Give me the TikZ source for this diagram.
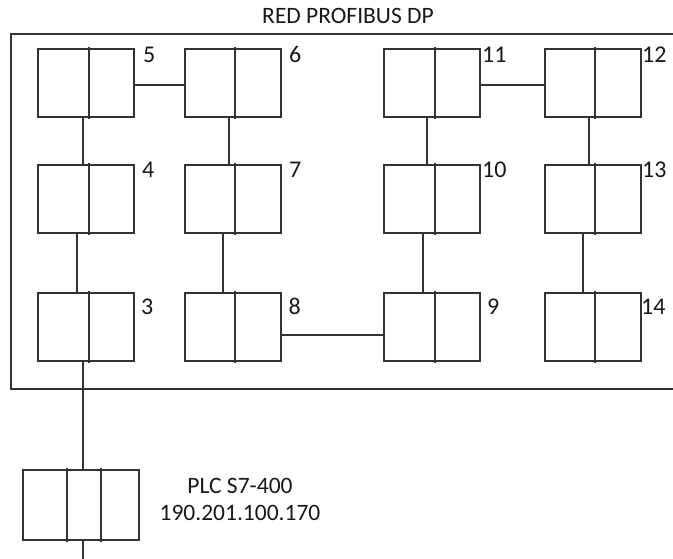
\documentclass[tikz,border=0pt]{standalone}
\usepackage{fontspec}
\setmainfont{Carlito}
\begin{document}
\begin{tikzpicture}[x=1pt,y=-1pt,
  wire/.style={draw=black!80, line width=2pt, line cap=rect},
  slave/.style={wire, rectangle, minimum width=96pt, minimum height=68pt, inner sep=0pt},
  master/.style={wire, rectangle, minimum width=116pt, minimum height=70pt, inner sep=0pt},
  addr/.style={anchor=west, inner sep=0pt, text=black!90, font=\fontsize{24}{28}\selectfont},
  caption/.style={inner sep=0pt, text=black!90, font=\fontsize{23.5}{27.5}\selectfont, align=center}]
\useasboundingbox (0,0) rectangle (673,559);
\clip (0,0) rectangle (673,559);

% network frame with its title
\node[wire, rectangle, minimum width=674pt, minimum height=355pt, inner sep=0pt] (net) at (348,211.5) {};
\node[caption] (title) at (348,15.8) {RED PROFIBUS DP};

% slave stations, columns x = 86, 233, 432, 593 ; rows y = 83, 199, 327
\node[slave] (m5)  at (86,83)   {};
\node[slave] (m6)  at (233,83)  {};
\node[slave] (m11) at (432,83)  {};
\node[slave] (m12) at (593,83)  {};
\node[slave] (m4)  at (86,199)  {};
\node[slave] (m7)  at (233,199) {};
\node[slave] (m10) at (432,199) {};
\node[slave] (m13) at (593,199) {};
\node[slave] (m3)  at (86,327)  {};
\node[slave] (m8)  at (233,327) {};
\node[slave] (m9)  at (432,327) {};
\node[slave] (m14) at (593,327) {};

% split line inside each slave
\foreach \m/\d in {m5/3,m4/3,m3/3,m6/2,m7/2,m8/2,m11/3,m10/3,m9/3,m12/2,m13/2,m14/2}
  \draw[wire] ([xshift=\d pt]\m.north) -- ([xshift=\d pt]\m.south);

% station addresses
\node[addr] (l5)  at (143,54.5)   {5};
\node[addr] (l6)  at (289,54.5)   {6};
\node[addr] (l11) at (482,54.5)   {11};
\node[addr] (l12) at (642,54.5)   {12};
\node[addr] (l4)  at (142,170)    {4};
\node[addr] (l7)  at (289,170)    {7};
\node[addr] (l10) at (482,170)    {10};
\node[addr] (l13) at (642,170)    {13};
\node[addr] (l3)  at (141,306.8)  {3};
\node[addr] (l8)  at (288.5,306.8){8};
\node[addr] (l9)  at (487,306.8)  {9};
\node[addr] (l14) at (641,306.8)  {14};

% bus segments
\draw[wire] ([yshift=-2pt]m5.east) -- ([yshift=-2pt]m6.west);
\draw[wire] ([yshift=-2pt]m11.east) -- ([yshift=-2pt]m12.west);
\draw[wire] ([yshift=-8pt]m8.east) -- ([yshift=-8pt]m9.west);
\draw[wire] ([xshift=-3pt]m5.south) -- ([xshift=-3pt]m4.north);
\draw[wire] ([xshift=-9pt]m4.south) -- ([xshift=-9pt]m3.north);
\draw[wire] ([xshift=-4pt]m6.south) -- ([xshift=-4pt]m7.north);
\draw[wire] ([xshift=-10pt]m7.south) -- ([xshift=-10pt]m8.north);
\draw[wire] ([xshift=-5pt]m11.south) -- ([xshift=-5pt]m10.north);
\draw[wire] ([xshift=-9pt]m10.south) -- ([xshift=-9pt]m9.north);
\draw[wire] ([xshift=-4pt]m12.south) -- ([xshift=-4pt]m13.north);
\draw[wire] ([xshift=-10pt]m13.south) -- ([xshift=-10pt]m14.north);

% master PLC
\node[master] (plc) at (81,505) {};
\draw[wire] ([xshift=-14pt]plc.north) -- ([xshift=-14pt]plc.south);
\draw[wire] ([xshift=20pt]plc.north) -- ([xshift=20pt]plc.south);
\node[caption] (plctext) at (240,499.7) {PLC S7-400\\190.201.100.170};

% link from the network to the PLC and onward
\draw[wire] ([xshift=-3pt]m3.south) -- ([xshift=-3pt]m3.south |- plc.north);
\coordinate (busend) at (83,562);
\draw[wire] (busend |- plc.south) -- (busend);
\end{tikzpicture}
\end{document}
